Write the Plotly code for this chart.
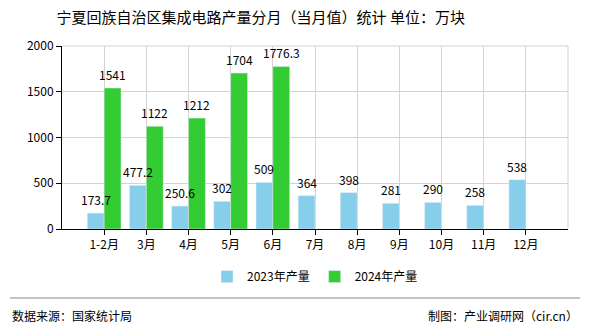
import plotly.graph_objects as go

categories = ["1-2月", "3月", "4月", "5月", "6月", "7月", "8月", "9月", "10月", "11月", "12月"]
values_2023 = [173.7, 477.2, 250.6, 302, 509, 364, 398, 281, 290, 258, 538]
values_2024 = [1541, 1122, 1212, 1704, 1776.3]
labels_2023 = ["173.7", "477.2", "250.6", "302", "509", "364", "398", "281", "290", "258", "538"]
labels_2024 = ["1541", "1122", "1212", "1704", "1776.3"]
y_ticks = [0, 500, 1000, 1500, 2000]

FONT = "Noto Sans CJK SC, SimSun, sans-serif"
xpos = list(range(len(categories)))
BAR_W = 0.4

fig = go.Figure()
fig.add_trace(go.Bar(
    x=xpos, y=values_2023, name="2023年产量", marker_color="#87CEEB",
    width=BAR_W, offset=-BAR_W,
))
fig.add_trace(go.Bar(
    x=xpos[:len(values_2024)], y=values_2024, name="2024年产量", marker_color="#33CC33",
    width=BAR_W, offset=0,
))

# value labels drawn above all bars
for i, (v, t) in enumerate(zip(values_2023, labels_2023)):
    fig.add_annotation(x=xpos[i] - BAR_W / 2, y=v, xref="x", yref="y", text=t,
                       showarrow=False, yanchor="bottom", yshift=3,
                       font=dict(family=FONT, size=12, color="#000000"))
for i, (v, t) in enumerate(zip(values_2024, labels_2024)):
    fig.add_annotation(x=xpos[i] + BAR_W / 2, y=v, xref="x", yref="y", text=t,
                       showarrow=False, yanchor="bottom", yshift=3,
                       font=dict(family=FONT, size=12, color="#000000"))

fig.update_layout(
    width=590, height=330,
    margin=dict(l=62, r=22, t=46, b=101),
    paper_bgcolor="white", plot_bgcolor="white",
    barmode="overlay",
    font=dict(family=FONT, size=12, color="#000000"),
    title=dict(text="宁夏回族自治区集成电路产量分月（当月值）统计 单位：万块",
               xref="container", x=0.442, xanchor="center",
               yref="container", y=0.945, yanchor="middle",
               font=dict(family=FONT, size=15, color="#000000")),
    showlegend=True,
    legend=dict(orientation="h", x=0.5, xanchor="center", y=-0.26, yanchor="middle",
                font=dict(family=FONT, size=12), itemwidth=30, traceorder="normal"),
)
fig.update_xaxes(
    range=[-1, 11], tickmode="array", tickvals=xpos, ticktext=categories,
    showgrid=True, gridcolor="#d3d3d3", gridwidth=1,
    showline=True, linecolor="#000000", linewidth=1,
    ticks="outside", ticklen=5, tickcolor="#000000",
    tickfont=dict(family=FONT, size=12, color="#000000"),
    mirror=False, zeroline=False,
)
fig.update_yaxes(
    range=[0, 2000], tickmode="array", tickvals=y_ticks,
    showgrid=True, gridcolor="#d3d3d3", gridwidth=1,
    showline=True, linecolor="#000000", linewidth=1,
    ticks="outside", ticklen=5, tickcolor="#000000",
    tickfont=dict(family=FONT, size=12, color="#000000"),
    zeroline=False,
)
# right border and top border lines of plot area
fig.add_shape(type="line", xref="paper", yref="paper", x0=1, x1=1, y0=0, y1=1,
              line=dict(color="#d3d3d3", width=1))
fig.add_shape(type="line", xref="paper", yref="paper", x0=0, x1=1, y0=1, y1=1,
              line=dict(color="#d3d3d3", width=1))
# footer separator
fig.add_shape(type="line", xref="paper", yref="paper", x0=-0.103, x1=1.024, y0=-0.377, y1=-0.377,
              line=dict(color="#888888", width=1))
fig.add_annotation(text="数据来源：国家统计局", xref="paper", yref="paper",
                   x=-0.103, y=-0.47, xanchor="left", yanchor="middle", showarrow=False,
                   font=dict(family=FONT, size=12, color="#000000"))
fig.add_annotation(text="制图：产业调研网（cir.cn）", xref="paper", yref="paper",
                   x=1.024, y=-0.47, xanchor="right", yanchor="middle", showarrow=False,
                   font=dict(family=FONT, size=12, color="#000000"))

fig.write_html("out.html")
